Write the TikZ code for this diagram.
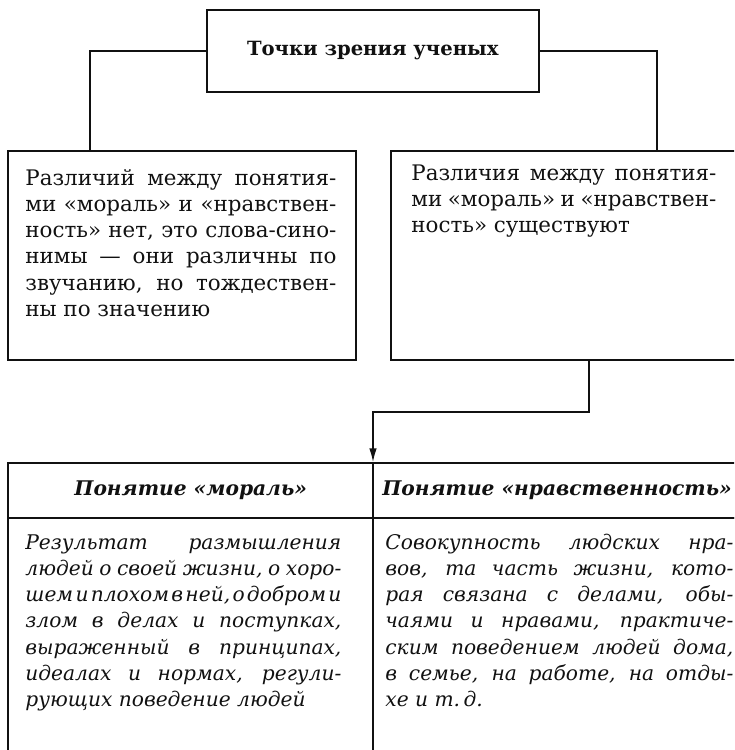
\documentclass[tikz,border=0pt]{standalone}
\usepackage{fontspec}
\setmainfont{DejaVu Serif}
\usepackage{xcolor}
\usetikzlibrary{arrows.meta,positioning,calc}
\definecolor{Ink}{HTML}{111111}
\tikzset{
  frame/.style={draw=Ink, line width=1pt, inner sep=0pt, outer sep=0pt},
  link/.style={draw=Ink, line width=1pt},
  body/.style={inner sep=0pt, align=justify, text=Ink, font=\fontsize{10.7}{13.15}\selectfont},
  slanted/.style={body, font=\itshape\fontsize{10.1}{13.15}\selectfont},
  headtext/.style={text=Ink, font=\bfseries\itshape\fontsize{10.1}{13}\selectfont},
}
\newcommand{\tightline}[1]{{\spaceskip=0.12em plus 0.3em minus 0.05em #1}}

\begin{document}
\begin{tikzpicture}[x=0.5pt, y=-0.5pt]
    \useasboundingbox (0,0) rectangle (734,750);
    \clip (0,0) rectangle (734,750);
    % top box and the two opinions
    \node[frame, minimum width=166pt, minimum height=41pt, text=Ink, font=\bfseries\fontsize{9.8}{12}\selectfont] (views) at (372.75,50.75) {Точки зрения ученых};
    \node[frame, anchor=north west, minimum width=173.7pt, minimum height=104.5pt] (same) at (8.4,151) {};
    \node[frame, anchor=north west, minimum width=173.7pt, minimum height=104.5pt] (differ) at (391,151) {};
    \node[body, text width=155.5pt, anchor=base west] (sametext) at (25,185) {Различий между понятия-\linebreak ми «мораль» и «нравствен-\linebreak ность» нет, это слова-сино-\linebreak нимы — они различны по\linebreak звучанию, но тождествен-\linebreak ны по значению};
    \node[body, text width=152.5pt, anchor=base west] (differtext) at (411,180) {Различия между понятия-\linebreak ми «мораль» и «нравствен-\linebreak ность» существуют};
    % table
    \node[frame, anchor=north west, minimum width=182.3pt, minimum height=27.8pt, headtext] (moralhead) at (8.4,462.7) {Понятие «мораль»};
    \node[frame, anchor=north west, minimum width=184pt, minimum height=27.8pt, headtext] (ethichead) at (moralhead.north east) {Понятие «нравственность»};
    \node[frame, anchor=north west, minimum width=182.3pt, minimum height=150pt] (moralcell) at (moralhead.south west) {};
    \node[frame, anchor=north west, minimum width=184pt, minimum height=150pt] (ethiccell) at (ethichead.south west) {};
    \node[slanted, text width=158pt, anchor=base west] (moraltext) at (25,549) {Результат размышления\linebreak людей о своей жизни, о хоро-\linebreak \tightline{шем и плохом в ней, о добром и}\linebreak злом в делах и поступках,\linebreak выраженный в принципах,\linebreak идеалах и нормах, регули-\linebreak рующих поведение людей};
    \node[slanted, text width=174pt, anchor=base west] (ethictext) at (385,549) {Совокупность людских нра-\linebreak вов, та часть жизни, кото-\linebreak рая связана с делами, обы-\linebreak чаями и нравами, практиче-\linebreak ским поведением людей дома,\linebreak в семье, на работе, на отды-\linebreak хе и т.\,д.};
    % connectors
    \draw[link] (views.west) -| ($(same.north west)+(81.6,0)$);
    \draw[link] (views.east) -| ($(differ.north west)+(265.8,0)$);
    \draw[link, -{Latex[length=7.2pt, width=3.8pt]}] ($(differ.south west)+(197.5,0)$) -- ++(0,52.3) -| (moralhead.north east);
\end{tikzpicture}
\end{document}
